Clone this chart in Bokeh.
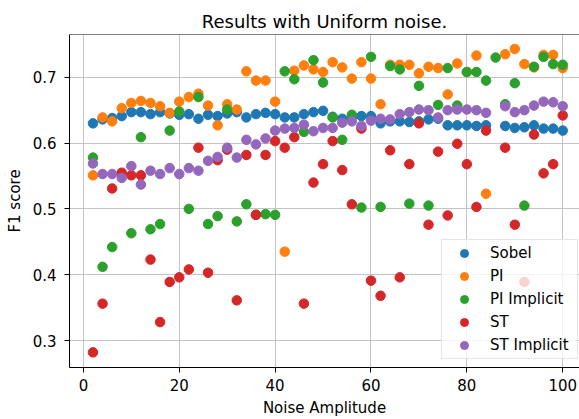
from bokeh.plotting import figure
from bokeh.models import Range1d, Span, Legend, LegendItem, FixedTicker
from bokeh.embed import file_html
from bokeh.resources import INLINE

nan = float("nan")

# noise amplitudes tested
noise = list(range(2, 101, 2))

sobel = [0.630, 0.636, 0.638, 0.641, 0.647, 0.647, 0.644, 0.647, 0.645, 0.643,
         0.644, 0.637, 0.643, 0.641, 0.645, 0.647, 0.639, 0.644, 0.646, 0.644,
         0.639, 0.639, 0.644, 0.647, 0.649, 0.640, 0.637, 0.639, 0.641, 0.641,
         0.630, 0.633, 0.633, 0.632, 0.633, 0.636, 0.637, 0.627, 0.627, 0.627,
         0.626, 0.627, nan, 0.626, 0.623, 0.624, 0.627, 0.622, 0.622, 0.619]

pi = [0.551, 0.639, 0.633, 0.653, 0.661, 0.664, 0.661, 0.656, 0.646, 0.663,
      0.670, 0.675, 0.657, 0.627, 0.659, 0.651, 0.709, 0.695, 0.695, 0.663,
      0.435, 0.710, 0.718, 0.712, 0.708, 0.723, 0.715, 0.698, 0.723, 0.698,
      0.659, 0.719, 0.719, 0.719, 0.706, 0.716, 0.714, 0.674, 0.721, 0.708,
      0.733, 0.523, nan, 0.735, 0.743, 0.720, 0.715, 0.734, 0.734, 0.714]

pi_implicit = [0.578, 0.412, 0.442, 0.552, 0.463, 0.609, 0.469, 0.477, 0.619, 0.648,
               0.500, 0.670, 0.477, 0.489, 0.651, 0.481, 0.507, 0.491, 0.492, 0.491,
               0.709, 0.697, 0.617, 0.726, 0.692, 0.639, 0.605, 0.643, 0.502, 0.731,
               0.503, 0.717, 0.712, 0.508, 0.687, 0.505, 0.658, 0.714, 0.657, 0.708,
               0.708, 0.695, 0.730, 0.659, 0.691, 0.505, 0.716, 0.731, 0.720, 0.719]

st = [0.282, 0.356, 0.531, 0.555, 0.551, 0.551, 0.423, 0.328, 0.389, 0.396,
      0.408, 0.593, 0.403, 0.574, 0.590, 0.361, 0.582, 0.491, 0.582, 0.603,
      0.593, 0.609, 0.356, 0.540, 0.568, 0.603, 0.559, 0.507, 0.622, 0.391,
      0.368, 0.589, 0.396, 0.568, 0.630, 0.476, 0.587, 0.490, 0.599, 0.568,
      0.503, 0.619, nan, 0.593, 0.476, 0.389, 0.613, 0.554, 0.568, 0.642]

st_implicit = [0.569, 0.553, 0.553, 0.547, 0.565, 0.537, 0.558, 0.553, 0.562, 0.553,
               0.562, 0.558, 0.573, 0.579, 0.593, 0.578, 0.605, 0.598, 0.607, 0.619,
               0.622, 0.623, 0.628, 0.618, 0.623, 0.623, 0.631, 0.633, 0.626, 0.634,
               0.637, 0.636, 0.644, 0.647, 0.651, 0.650, 0.639, 0.650, 0.651, 0.651,
               0.650, 0.646, nan, 0.656, 0.647, 0.650, 0.657, 0.663, 0.662, 0.656]

series = [
    ("Sobel", sobel, "#1f77b4"),
    ("PI", pi, "#ff7f0e"),
    ("PI Implicit", pi_implicit, "#2ca02c"),
    ("ST", st, "#d62728"),
    ("ST Implicit", st_implicit, "#9467bd"),
]

y_lo, y_hi = 0.259, 0.765

p = figure(width=579, height=419, output_backend="svg", toolbar_location=None,
           x_range=Range1d(-2.9, 103.5), y_range=Range1d(y_lo, y_hi),
           min_border_left=69, min_border_right=0, min_border_top=34,
           min_border_bottom=52, title="Results with Uniform noise.")

p.background_fill_color = "white"
p.border_fill_color = "white"
p.outline_line_color = None

p.title.text_font = "DejaVu Sans"
p.title.text_font_size = "18px"
p.title.text_font_style = "normal"
p.title.text_color = "black"
p.title.align = "center"
p.title.standoff = 6

for ax in (p.xaxis[0], p.yaxis[0]):
    ax.axis_line_color = "black"
    ax.axis_line_width = 1
    ax.major_tick_line_color = "black"
    ax.major_tick_out = 5
    ax.major_tick_in = 0
    ax.minor_tick_line_color = None
    ax.major_label_text_font = "DejaVu Sans"
    ax.major_label_text_font_size = "15px"
    ax.major_label_text_color = "black"
    ax.axis_label_text_font = "DejaVu Sans"
    ax.axis_label_text_font_size = "15px"
    ax.axis_label_text_font_style = "normal"
    ax.axis_label_text_color = "black"

p.xaxis.ticker = FixedTicker(ticks=[0, 20, 40, 60, 80, 100])
p.yaxis.ticker = FixedTicker(ticks=[0.3, 0.4, 0.5, 0.6, 0.7])
p.xaxis.axis_label = "Noise Amplitude"
p.yaxis.axis_label = "F1 score"
p.xaxis.major_label_standoff = 6
p.yaxis.major_label_standoff = 8
p.xaxis.axis_label_standoff = 5
p.yaxis.axis_label_standoff = 6

p.xgrid.grid_line_color = "#c4c4c4"
p.ygrid.grid_line_color = "#c4c4c4"
p.xgrid.grid_line_width = 1
p.ygrid.grid_line_width = 1

# top spine of the axes box
p.add_layout(Span(location=y_hi, dimension="width", line_color="black", line_width=1))

items = []
for name, vals, color in series:
    r = p.scatter(noise, vals, size=9.5, marker="circle", fill_color=color,
                  line_color=color, line_width=1)
    items.append(LegendItem(label=name, renderers=[r]))

legend = Legend(items=items, location=(372, 8))
legend.background_fill_color = "white"
legend.background_fill_alpha = 0.8
legend.border_line_color = "#cccccc"
legend.border_line_width = 1
legend.label_text_font = "DejaVu Sans"
legend.label_text_font_size = "15px"
legend.label_text_color = "black"
legend.padding = 3
legend.spacing = 3
legend.glyph_width = 38
legend.glyph_height = 20
legend.label_height = 20
legend.label_width = 84
legend.label_standoff = 7
legend.margin = 0
p.add_layout(legend, "center")

open("out.html", "w").write(file_html(p, INLINE))
